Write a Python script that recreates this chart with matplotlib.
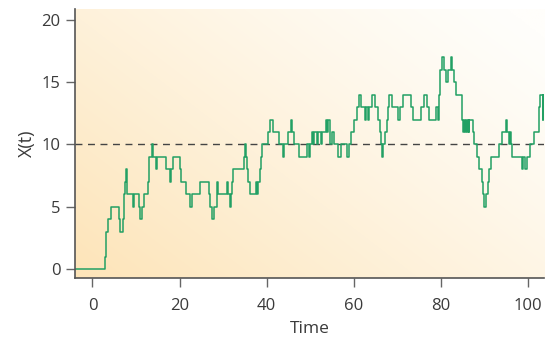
import matplotlib.pyplot as plt
import numpy as np

# jump times of the birth-death path and the level held after each jump
jump_times = [
    -4, 2.8, 3.0, 3.2, 3.6, 4.3, 6.1, 6.3, 7.0, 7.2, 7.3, 7.5, 7.6, 7.9,
    9.3, 9.6, 10.8, 11.0, 11.3, 11.9, 12.7, 12.9, 13.0, 13.7, 14.0, 14.5,
    14.9, 17.0, 17.8, 18.1, 18.5, 20.0, 20.4, 21.6, 22.5, 22.8, 24.6, 26.7,
    26.9, 27.4, 27.9, 28.5, 28.6, 28.9, 30.8, 31.1, 31.6, 31.9, 32.1, 32.3,
    34.7, 35.1, 35.3, 35.6, 35.8, 36.3, 37.6, 37.9, 38.1, 38.6, 38.8, 39.0,
    40.3, 40.9, 41.5, 42.8, 43.8, 44.1, 44.9, 45.5, 45.8, 46.3, 47.4, 49.4,
    49.7, 50.0, 50.4, 50.7, 51.0, 51.5, 51.8, 52.4, 52.8, 53.6, 53.9, 54.1,
    54.5, 54.6, 55.0, 55.5, 56.4, 57.0, 58.4, 58.9, 59.5, 60.0, 60.7, 61.3,
    61.8, 62.5, 62.8, 63.2, 63.6, 64.3, 65.0, 65.6, 66.0, 66.3, 66.6, 66.8,
    67.2, 67.6, 68.0, 68.2, 68.8, 70.1, 70.6, 71.4, 73.1, 73.7, 75.4, 76.2,
    76.8, 77.3, 78.9, 79.3, 79.6, 79.7, 79.8, 79.9, 80.4, 80.8, 81.2, 81.6,
    82.4, 82.7, 83.1, 83.6, 84.8, 84.9, 85.2, 85.4, 85.6, 85.8, 86.0, 86.2,
    86.4, 86.6, 87.5, 87.7, 88.4, 88.9, 89.5, 89.7, 90.0, 90.3, 90.8, 91.1,
    91.5, 93.5, 94.2, 95.0, 95.3, 95.7, 96.0, 96.2, 96.5, 98.6, 99.0, 99.4,
    99.9, 100.5, 101.5, 102.5, 102.7, 102.8, 103.4, 103.6,
]
levels = [
    0, 1, 2, 3, 4, 5, 4, 3, 4, 5, 6, 7, 8, 6,
    5, 6, 5, 4, 5, 6, 7, 8, 9, 10, 9, 8,
    9, 8, 7, 8, 9, 8, 7, 6, 5, 6, 7, 6,
    5, 4, 5, 6, 7, 6, 7, 6, 5, 6, 7, 8,
    9, 10, 9, 8, 7, 6, 7, 6, 7, 8, 9, 10,
    11, 12, 11, 10, 9, 10, 11, 12, 11, 10, 9, 10,
    9, 10, 11, 10, 11, 10, 11, 10, 11, 12, 11, 12,
    11, 10, 11, 10, 9, 10, 9, 10, 11, 12, 13, 14,
    13, 12, 13, 12, 13, 14, 13, 12, 11, 10, 9, 10,
    11, 12, 13, 14, 13, 12, 13, 14, 13, 12, 13, 14,
    13, 12, 13, 12, 13, 14, 15, 16, 17, 16, 15, 16,
    17, 16, 15, 14, 13, 12, 11, 12, 11, 12, 11, 12,
    11, 12, 11, 10, 9, 8, 7, 6, 5, 6, 7, 8,
    9, 10, 11, 12, 11, 10, 11, 10, 9, 8, 9, 8,
    9, 10, 11, 12, 13, 14, 12, 14,
]
t_end = 103.8
steady_state = 10
x_ticks = [0, 20, 40, 60, 80, 100]
y_ticks = [0, 5, 10, 15, 20]

plt.rcParams['font.family'] = ['Open Sans', 'DejaVu Sans']
text_col = '#3a3a3a'

fig = plt.figure(figsize=(5.52, 3.41), dpi=100)
ax = fig.add_axes([0.136, 0.185, 0.85, 0.79])

# warm wash fading from the lower-left corner to white
gx, gy = np.meshgrid(np.linspace(0, 1, 300), np.linspace(0, 1, 200))
g = np.clip(0.6 * (1 - gx) + 0.45 * (1 - gy) - 0.05, 0, 1) ** 1.2
warm = np.array([253, 228, 184]) / 255
white = np.array([255, 254, 251]) / 255
rgb = white[None, None, :] * (1 - g[..., None]) + warm[None, None, :] * g[..., None]
ax.imshow(rgb, extent=[0, 1, 0, 1], transform=ax.transAxes, origin='lower',
          aspect='auto', zorder=0, interpolation='bilinear')

ax.axhline(steady_state, color='#444444', lw=1.0, dashes=(5, 4), zorder=1)

xs = jump_times + [t_end]
ys = levels + [levels[-1]]
ax.step(xs, ys, where='post', color='#22a064', lw=1.1, zorder=2)

ax.set_xlim(-4, t_end)
ax.set_ylim(-0.7, 20.9)
ax.set_xticks(x_ticks)
ax.set_yticks(y_ticks)

for s in ['top', 'right']:
    ax.spines[s].set_visible(False)
for s in ['left', 'bottom']:
    ax.spines[s].set_color('#555555')
    ax.spines[s].set_linewidth(1.2)

ax.tick_params(axis='both', length=6.5, width=1.0, color='#666666',
               labelcolor=text_col, labelsize=12)
ax.tick_params(axis='x', pad=8)
ax.tick_params(axis='y', pad=4)

ax.set_xlabel('Time', fontsize=12.5, color=text_col, labelpad=5)
ax.set_ylabel('X(t)', fontsize=13, color=text_col, labelpad=4)

fig.savefig('out.png', dpi=100)
